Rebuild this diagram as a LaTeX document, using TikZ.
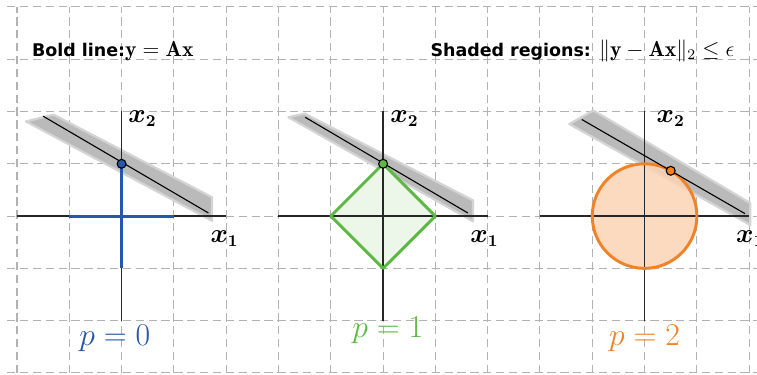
\documentclass[tikz,border=0pt]{standalone}
\usepackage{amsmath}
\usepackage{bm}
\usepackage{fontspec}
\setsansfont{DejaVu Sans}

\definecolor{pblue}{RGB}{38,87,170}
\definecolor{pgreen}{RGB}{94,184,70}
\definecolor{porange}{RGB}{240,130,40}

\tikzset{
  gridline/.style={gray!60, dash pattern=on 4.5pt off 2.5pt, line width=0.55pt},
  axisline/.style={black!85, line width=0.7pt},
  stripband/.style={fill=black!27, draw=black!17, line width=1.2pt, line join=round},
  fitline/.style={black, line width=0.6pt},
  dotmark/.style={draw=black, line width=0.6pt},
  normshape/.style={line width=1.6pt, line join=round},
  axlabel/.style={font=\fontsize{13.5}{15}\selectfont},
  plabel/.style={font=\fontsize{19}{21}\selectfont, anchor=base},
  titletext/.style={anchor=base west, inner sep=0pt, font=\sffamily\bfseries\fontsize{9.5}{11}\selectfont},
}

\begin{document}
\begin{tikzpicture}
  \useasboundingbox (-0.325,-0.038) rectangle (14.15,7.132);
  % dashed background grid
  \foreach \j in {0,...,7} \draw[gridline] (-0.19,\j) -- (14.15,\j);
  \foreach \i in {0,...,14} \draw[gridline] (\i,0) -- (\i,7);

  % titles
  \node[titletext] (bold) at (0.28,6.06) {Bold line:\fontsize{11.8}{13}\selectfont$\mathbf{y}=\mathbf{A}\mathbf{x}$};
  \node[titletext] (shaded) at (7.9,6.06) {Shaded regions: \fontsize{11.8}{13}\selectfont$\|\mathbf{y}-\mathbf{A}\mathbf{x}\|_2\leq\epsilon$};

  % p = 0
  \begin{scope}[shift={(2,3)}]
    \draw[stripband] (-1.83,1.81) -- (-1.3,1.94) -- (1.73,0.36) -- (1.73,-0.09) -- cycle;
    \draw[axisline] (-2,0) -- (2,0);
    \draw[axisline] (0,-2) -- (0,2);
    \draw[normshape, pblue] (-1,0) -- (1,0);
    \draw[normshape, pblue] (0,-1) -- (0,1);
    \draw[fitline] (-1.5,1.91) -- (1.66,0.06);
    \filldraw[dotmark, fill=pblue] (0,1) circle (0.085);
    \node[axlabel] (xtwoA) at (0.4,1.87) {$\bm{x_2}$};
    \node[axlabel] (xoneA) at (1.97,-0.44) {$\bm{x_1}$};
    \node[plabel, pblue] (pzero) at (-0.13,-2.47) {$p=0$};
  \end{scope}

  % p = 1
  \begin{scope}[shift={(7,3)}]
    \draw[stripband] (-1.81,1.89) -- (-1.5,1.96) -- (1.72,0.3) -- (1.72,-0.1) -- cycle;
    \fill[pgreen!12] (1,0) -- (0,1) -- (-1,0) -- (0,-1) -- cycle;
    \draw[axisline] (-2,0) -- (2,0);
    \draw[axisline] (0,-2) -- (0,2);
    \draw[normshape, pgreen] (1,0) -- (0,1) -- (-1,0) -- (0,-1) -- cycle;
    \draw[fitline] (-1.49,1.89) -- (1.62,0.06);
    \filldraw[dotmark, fill=pgreen] (0,1) circle (0.085);
    \node[axlabel] (xtwoB) at (0.41,1.87) {$\bm{x_2}$};
    \node[axlabel] (xoneB) at (1.94,-0.44) {$\bm{x_1}$};
    \node[plabel, pgreen] (pone) at (0.09,-2.33) {$p=1$};
  \end{scope}

  % p = 2
  \begin{scope}[shift={(12,3)}]
    \draw[stripband] (-1.44,1.76) -- (-0.98,2.02) -- (2.02,0.25) -- (2.02,-0.17) -- cycle;
    \fill[porange!35, fill opacity=0.85] (0,0) circle (1);
    \draw[axisline] (-2,0) -- (2,0);
    \draw[axisline] (0,-2) -- (0,2);
    \draw[normshape, porange] (0,0) circle (1);
    \draw[fitline] (-1.2,1.847) -- (1.92,0.047);
    \filldraw[dotmark, fill=porange] (0.5,0.866) circle (0.085);
    \node[axlabel] (xtwoC) at (0.5,1.87) {$\bm{x_2}$};
    \node[axlabel] (xoneC) at (2.02,-0.44) {$\bm{x_1}$};
    \node[plabel, porange] (ptwo) at (0,-2.47) {$p=2$};
  \end{scope}
\end{tikzpicture}
\end{document}
